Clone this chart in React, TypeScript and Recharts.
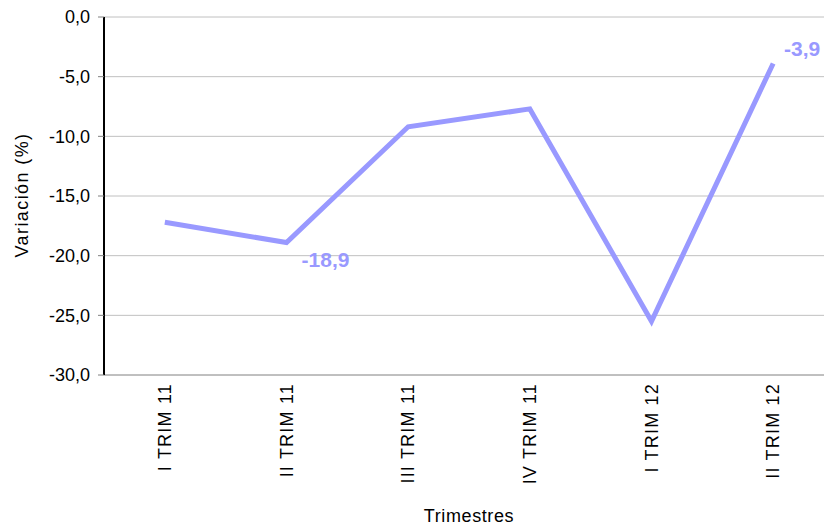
import { LineChart, Line, XAxis, YAxis, CartesianGrid, LabelList, Label } from 'recharts';

const categories = ['I TRIM 11', 'II TRIM 11', 'III TRIM 11', 'IV TRIM 11', 'I TRIM 12', 'II TRIM 12'];
const values = [-17.2, -18.9, -9.2, -7.7, -25.5, -3.9];
const yTicks = [0, -5, -10, -15, -20, -25, -30];
const labelledIdx = [1, 5];

const LINE = '#9999ff';
const FONT = 'Arial, "Liberation Sans", sans-serif';

const data = categories.map((c, i) => ({ x: i + 0.5, name: c, value: values[i] }));
const fmt = (v: number) => v.toFixed(1).replace('.', ',');

// category labels rotated, reading bottom to top
const CatTick = (props: any) => {
  const { x, y, payload } = props;
  const name = categories[Math.round(payload.value - 0.5)];
  return (
    <text x={x} y={y} transform={`rotate(-90 ${x} ${y})`} textAnchor="end" dominantBaseline="central"
      fontSize={18} letterSpacing={1.2} fontFamily={FONT} fill="#000">{name}</text>
  );
};

const ValueLabel = (props: any) => {
  const { x, y, index, value } = props;
  if (!labelledIdx.includes(index)) return null;
  const dx = index === 5 ? 29 : 39;
  const dy = index === 5 ? -15 : 17;
  return (
    <text x={x + dx} y={y + dy} textAnchor="middle" dominantBaseline="central" fontSize={21} fontWeight="bold"
      fontFamily={FONT} fill={LINE}>{fmt(value)}</text>
  );
};

export default function App() {
  return (
    <div style={{ position: 'fixed', left: 0, top: 0, width: 824, height: 527, overflow: 'hidden', background: '#fff' }}>
      <LineChart width={840} height={527} data={data} margin={{ top: 17, right: 6, bottom: 0, left: 0 }}>
        <CartesianGrid vertical={false} horizontal stroke="#c0c0c0" strokeWidth={1} />
        <XAxis xAxisId="cat" dataKey="x" type="number" domain={[0, 6]} ticks={[0.5, 1.5, 2.5, 3.5, 4.5, 5.5]}
          orientation="bottom" tick={<CatTick />} tickLine={false} axisLine={{ stroke: '#a0a0a0' }} height={152}>
          <Label value="Trimestres" position="insideBottom" offset={5} fontSize={18} letterSpacing={0.6}
            fontFamily={FONT} fill="#000" />
        </XAxis>
        <XAxis xAxisId="top" dataKey="x" type="number" domain={[0, 6]} ticks={[0, 1, 2, 3, 4, 5, 6]}
          orientation="top" mirror tickSize={6} tickFormatter={() => ''} tickLine={{ stroke: '#808080' }}
          axisLine={{ stroke: '#808080', strokeWidth: 2 }} height={0} />
        <YAxis type="number" domain={[-30, 0]} ticks={yTicks} width={104} tickFormatter={fmt}
          tick={{ fontSize: 18, fontFamily: FONT, fill: '#000' }} tickSize={6} tickMargin={8}
          tickLine={{ stroke: '#808080' }} axisLine={{ stroke: '#000', strokeWidth: 2 }}>
          <Label content={() => (
            <text x={22} y={195} transform="rotate(-90 22 195)" textAnchor="middle" dominantBaseline="central"
              fontSize={18} letterSpacing={1.4} fontFamily={FONT} fill="#000">Variación (%)</text>
          )} />
        </YAxis>
        <Line xAxisId="cat" dataKey="value" stroke={LINE} strokeWidth={5} dot={false} isAnimationActive={false}
          strokeLinejoin="miter">
          <LabelList dataKey="value" content={<ValueLabel />} />
        </Line>
      </LineChart>
    </div>
  );
}
